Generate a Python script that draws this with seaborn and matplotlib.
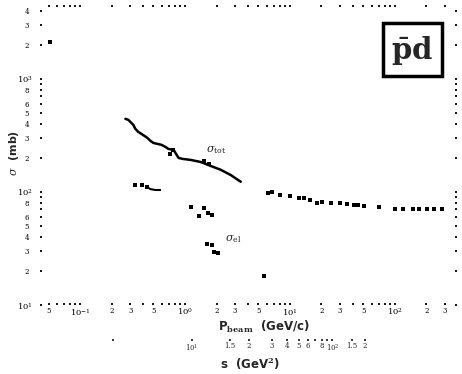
import numpy as np
import pandas as pd
import matplotlib
matplotlib.use("Agg")
import matplotlib.pyplot as plt
from matplotlib.patches import Rectangle
from matplotlib.ticker import FixedLocator, FuncFormatter, NullFormatter, LogLocator
import seaborn as sns

# --- data: antiproton-deuteron cross sections (mb) vs beam momentum (GeV/c) ---
tot_curve_p = [0.270, 0.288, 0.321, 0.336, 0.359, 0.384, 0.410, 0.438, 0.468, 0.500,
               0.546, 0.596, 0.651, 0.695, 0.776, 0.867, 0.946, 1.13, 1.41, 1.75,
               2.19, 2.73, 3.40]
tot_curve_sig = [443, 434, 392, 361, 339, 326, 313, 300, 283, 271,
                 266, 261, 250, 240, 236, 200, 196, 192, 184, 170,
                 157, 141, 123]

tot_pts_p = [0.0516, 0.726, 0.776, 1.50, 1.70, 6.15, 6.73, 8.02, 10.0, 12.2, 13.6,
             15.5, 18.1, 20.2, 24.7, 30.1, 35.1, 40.9, 44.7, 51.1, 71.1,
             101, 120, 150, 171, 205, 239, 285]
tot_pts_sig = [2120, 217, 236, 188, 176, 98, 100, 94, 92, 88.5, 88.5,
               85, 80, 81.6, 80, 80, 78.3, 76.7, 76.7, 75, 73.6,
               70.7, 70.7, 70.7, 70.7, 70.7, 70.7, 70.7]

el_curve_p = [0.437, 0.467, 0.52, 0.58]
el_curve_sig = [110, 106, 104, 104]

el_pts_p = [0.336, 0.392, 0.437, 1.15, 1.35, 1.50, 1.64, 1.79, 1.61, 1.79, 1.88, 2.05, 5.64]
el_pts_sig = [115, 115, 110, 73.7, 61.3, 72.2, 65.2, 62.6, 34.6, 33.9, 29.4, 28.8, 18.1]

# tick labels
x_major = [0.1, 1, 10, 100]
x_major_labels = [r"$10^{-1}$", r"$10^{0}$", r"$10^{1}$", r"$10^{2}$"]
y_major = [10, 100, 1000]
y_major_labels = [r"$10^{1}$", r"$10^{2}$", r"$10^{3}$"]
s_ticks = [8, 10, 15, 20, 30, 40, 50, 60, 70, 80, 90, 100, 150, 200]
s_labels = ["", r"$10^{1}$", "1.5", "2", "3", "4", "5", "6", "", "8", "",
            r"$10^{2}$", "1.5", "2"]

M_P = 0.938272
M_D = 1.875613


def p_to_s(p):
    p = np.asarray(p, dtype=float)
    return M_P**2 + M_D**2 + 2 * M_D * np.sqrt(p**2 + M_P**2)


def s_to_p(s):
    s = np.asarray(s, dtype=float)
    e = (s - M_P**2 - M_D**2) / (2 * M_D)
    return np.sqrt(np.clip(e**2 - M_P**2, 1e-8, None))


sns.set_theme(style="white")
plt.rcParams["font.family"] = ["DejaVu Sans"]
plt.rcParams["mathtext.fontset"] = "dejavuserif"

W, H = 462, 374
fig = plt.figure(figsize=(W / 100, H / 100), dpi=100)
ax = fig.add_axes([40 / W, 1 - 305 / H, 417 / W, 300 / H])
ax.set_xscale("log")
ax.set_yscale("log")
ax.set_xlim(0.0414, 392)
ax.set_ylim(10, 4500)

df_curve = pd.DataFrame({"p": tot_curve_p, "sig": tot_curve_sig})
df_tot = pd.DataFrame({"p": tot_pts_p, "sig": tot_pts_sig})
df_elc = pd.DataFrame({"p": el_curve_p, "sig": el_curve_sig})
df_el = pd.DataFrame({"p": el_pts_p, "sig": el_pts_sig})

sns.lineplot(data=df_curve, x="p", y="sig", ax=ax, color="black", lw=1.8,
             sort=False, estimator=None)
sns.lineplot(data=df_elc, x="p", y="sig", ax=ax, color="black", lw=1.5,
             sort=False, estimator=None)
sns.scatterplot(data=df_tot, x="p", y="sig", ax=ax, color="black", s=6,
                marker="s", linewidth=0)
sns.scatterplot(data=df_el, x="p", y="sig", ax=ax, color="black", s=6,
                marker="s", linewidth=0)

ax.text(1.57, 235, r"$\sigma_{\rm tot}$", fontsize=8, ha="left", va="center")
ax.text(2.39, 38.4, r"$\sigma_{\rm el}$", fontsize=8, ha="left", va="center")

# frame drawn only as dotted tick marks
for sp in ax.spines.values():
    sp.set_visible(False)


def minor_fmt(digits):
    def f(v, pos):
        lead = v / 10 ** np.floor(np.log10(v) + 1e-9)
        d = int(round(lead))
        return str(d) if d in digits and abs(lead - d) < 1e-6 else ""
    return f


ax.xaxis.set_major_locator(FixedLocator(x_major))
ax.set_xticklabels(x_major_labels)
ax.xaxis.set_minor_locator(LogLocator(base=10, subs=np.arange(2, 10)))
ax.xaxis.set_minor_formatter(FuncFormatter(minor_fmt({2, 3, 5})))
ax.yaxis.set_major_locator(FixedLocator(y_major))
ax.set_yticklabels(y_major_labels)
ax.yaxis.set_minor_locator(LogLocator(base=10, subs=np.arange(2, 10)))
ax.yaxis.set_minor_formatter(FuncFormatter(minor_fmt({2, 3, 4, 5, 6, 8})))

ax.tick_params(which="both", direction="in", length=1.2, width=1.3, color="black",
               top=True, right=True, bottom=True, left=True,
               labelsize=5, pad=1.5, labelcolor="black")
ax.tick_params(axis="y", which="both", pad=8)
ax.tick_params(axis="x", which="major", labelsize=6)
ax.tick_params(axis="y", which="major", labelsize=6, pad=5)
for lab in ax.get_xticklabels(which="both") + ax.get_yticklabels(which="both"):
    lab.set_fontfamily("DejaVu Serif")
ax.set_xlabel("")
ax.set_ylabel("")

# second momentum scale: centre-of-mass energy squared
sec = ax.secondary_xaxis(-0.12, functions=(p_to_s, s_to_p))
sec.set_xticks(s_ticks)
sec.set_xticklabels(s_labels)
sec.xaxis.set_minor_formatter(NullFormatter())
sec.xaxis.set_minor_locator(FixedLocator([]))
sec.spines["bottom"].set_visible(False)
sec.tick_params(direction="in", length=1.2, width=1.3, labelsize=5, pad=1.0)
for lab in sec.get_xticklabels():
    lab.set_fontfamily("DejaVu Serif")

fig.text(218 / W, 1 - 327 / H, r"P$_{\mathbf{beam}}$  (GeV/c)", fontsize=8.5,
         fontweight="bold", ha="left", va="center", family="DejaVu Sans")
fig.text(220 / W, 1 - 364 / H, r"s  (GeV$^{\mathbf{2}}$)", fontsize=8.5,
         fontweight="bold", ha="left", va="center", family="DejaVu Sans")
fig.text(14 / W, 1 - 153 / H, r"$\sigma$  (mb)", fontsize=8, fontweight="bold",
         rotation=90, ha="center", va="center", family="DejaVu Sans")

# reaction label box
ax.add_patch(Rectangle((0.8225, 0.763), 0.1415, 0.177, transform=ax.transAxes,
                       fill=False, lw=2.5, edgecolor="black", clip_on=False))
ax.text(0.893, 0.848, r"$\bar{\mathbf{p}}\mathbf{d}$", transform=ax.transAxes,
        fontsize=21, ha="center", va="center")

fig.savefig("out.png", dpi=100)
